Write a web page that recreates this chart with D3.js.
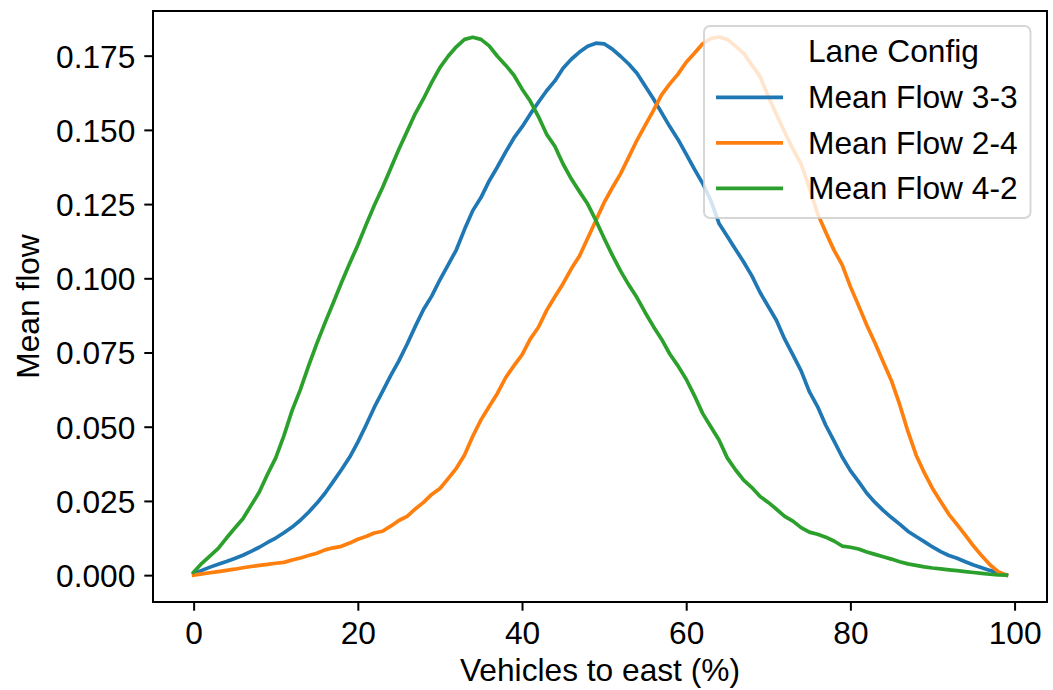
<!DOCTYPE html>
<html><head><meta charset="utf-8">
<script src="https://cdn.jsdelivr.net/npm/d3@7"></script>
<style>
body{margin:0;background:#fff}
text{font-family:"Liberation Sans",Arial,Helvetica,sans-serif;fill:#000}
</style>
</head><body>
<svg id="chart" width="1053" height="690"></svg>
<script>
// Vehicles to east (%) : 0..99
const seriesNames = ["Mean Flow 3-3", "Mean Flow 2-4", "Mean Flow 4-2"];
const seriesColors = ["#1f77b4", "#ff7f0e", "#2ca02c"];
const legendTitle = "Lane Config";
const xTicks = [0, 20, 40, 60, 80, 100];
const yTicks = [0, 0.025, 0.05, 0.075, 0.1, 0.125, 0.15, 0.175];

const flow33 = [
0.0005,0.0016,0.0027,0.0037,0.0046,0.0056,0.0067,0.0080,0.0094,0.0110,
0.0125,0.0143,0.0162,0.0185,0.0212,0.0242,0.0276,0.0315,0.0355,0.0397,
0.0448,0.0505,0.0565,0.0618,0.0672,0.0722,0.0778,0.0838,0.0895,0.0940,
0.0995,0.1045,0.1096,0.1165,0.1228,0.1272,0.1328,0.1375,0.1425,0.1472,
0.1510,0.1553,0.1593,0.1632,0.1665,0.1708,0.1738,0.1762,0.1782,0.1792,
0.1790,0.1772,0.1748,0.1722,0.1691,0.1648,0.1605,0.1558,0.1511,0.1468,
0.1418,0.1368,0.1320,0.1262,0.1185,0.1142,0.1098,0.1055,0.1008,0.0952,
0.0905,0.0858,0.0795,0.0742,0.0688,0.0618,0.0568,0.0505,0.0452,0.0398,
0.0352,0.0315,0.0276,0.0245,0.0218,0.0194,0.0172,0.0148,0.0130,0.0113,
0.0095,0.0079,0.0066,0.0057,0.0045,0.0034,0.0025,0.0016,0.0008,0.0000];

const flow24 = [
0.0000,0.0004,0.0008,0.0012,0.0016,0.0020,0.0025,0.0029,0.0033,0.0036,
0.0040,0.0043,0.0051,0.0058,0.0066,0.0074,0.0085,0.0092,0.0097,0.0108,
0.0121,0.0130,0.0142,0.0148,0.0165,0.0184,0.0198,0.0223,0.0245,0.0272,
0.0292,0.0325,0.0360,0.0405,0.0468,0.0523,0.0568,0.0612,0.0665,0.0705,
0.0742,0.0795,0.0835,0.0892,0.0938,0.0982,0.1032,0.1075,0.1135,0.1195,
0.1255,0.1305,0.1352,0.1408,0.1465,0.1515,0.1565,0.1618,0.1655,0.1688,
0.1728,0.1758,0.1790,0.1808,0.1813,0.1805,0.1782,0.1758,0.1718,0.1680,
0.1612,0.1552,0.1492,0.1435,0.1385,0.1305,0.1218,0.1155,0.1095,0.1045,
0.0972,0.0908,0.0842,0.0782,0.0718,0.0655,0.0575,0.0485,0.0405,0.0345,
0.0292,0.0248,0.0205,0.0170,0.0135,0.0098,0.0065,0.0035,0.0012,0.0000];

const flow42 = [
0.0010,0.0040,0.0065,0.0090,0.0125,0.0158,0.0190,0.0235,0.0280,0.0340,
0.0395,0.0470,0.0555,0.0625,0.0705,0.0780,0.0850,0.0917,0.0985,0.1050,
0.1112,0.1180,0.1245,0.1305,0.1370,0.1435,0.1495,0.1555,0.1605,0.1660,
0.1710,0.1748,0.1780,0.1805,0.1812,0.1805,0.1783,0.1748,0.1718,0.1685,
0.1638,0.1597,0.1545,0.1485,0.1445,0.1385,0.1335,0.1292,0.1250,0.1195,
0.1135,0.1078,0.1025,0.0978,0.0935,0.0885,0.0838,0.0795,0.0745,0.0705,
0.0660,0.0605,0.0545,0.0500,0.0455,0.0395,0.0355,0.0320,0.0295,0.0265,
0.0245,0.0222,0.0198,0.0182,0.0160,0.0145,0.0138,0.0128,0.0115,0.0098,
0.0094,0.0088,0.0078,0.0070,0.0062,0.0054,0.0045,0.0038,0.0033,0.0028,
0.0024,0.0021,0.0018,0.0015,0.0012,0.0009,0.0006,0.0003,0.0001,0.0000];

const seriesValues = [flow33, flow24, flow42];

const W = 1053, H = 690;
const L = 153, R = 1047, T = 11, B = 602;
const FS = 31.7;
const svg = d3.select("#chart");

const x = d3.scaleLinear().domain([-4.95, 103.95]).range([L, R]);
const y = d3.scaleLinear().domain([-0.00905, 0.19005]).range([B, T]);

svg.append("defs").append("clipPath").attr("id", "clip")
  .append("rect").attr("x", L).attr("y", T).attr("width", R - L).attr("height", B - T);

const line = d3.line().x((d, i) => x(i)).y(d => y(d));
const lines = svg.append("g").attr("clip-path", "url(#clip)");
seriesValues.forEach((vals, k) => {
  lines.append("path").datum(vals)
    .attr("d", line)
    .attr("fill", "none")
    .attr("stroke", seriesColors[k])
    .attr("stroke-width", 3.7)
    .attr("stroke-linejoin", "round")
    .attr("stroke-linecap", "square");
});

// axes
const xAxis = d3.axisBottom(x).tickValues(xTicks).tickSize(8.7).tickPadding(8).tickFormat(d3.format("d"));
const yAxis = d3.axisLeft(y).tickValues(yTicks).tickSize(8.7).tickPadding(9).tickFormat(d3.format(".3f"));

const gx = svg.append("g").attr("transform", `translate(0,${B})`).call(xAxis);
const gy = svg.append("g").attr("transform", `translate(${L},0)`).call(yAxis);
[gx, gy].forEach(g => {
  g.select(".domain").remove();
  g.selectAll(".tick line").attr("stroke", "#000").attr("stroke-width", 2);
  g.selectAll(".tick text").attr("fill", "#000").style("font-size", FS + "px")
    .style("font-family", '"Liberation Sans", Arial, sans-serif');
});
gx.selectAll(".tick text").attr("dy", null).attr("y", 42);
gy.selectAll(".tick text").attr("dy", "0.36em");

// spines
svg.append("rect").attr("x", L).attr("y", T).attr("width", R - L).attr("height", B - T)
  .attr("fill", "none").attr("stroke", "#000").attr("stroke-width", 2);

// axis labels
svg.append("text").attr("x", (L + R) / 2).attr("y", 681)
  .attr("text-anchor", "middle").style("font-size", FS + "px")
  .text("Vehicles to east (%)");
svg.append("text")
  .attr("transform", `translate(39,${(T + B) / 2}) rotate(-90)`)
  .attr("text-anchor", "middle").style("font-size", FS + "px")
  .text("Mean flow");

// legend
const lg = svg.append("g");
lg.append("rect").attr("x", 704).attr("y", 26).attr("width", 326.5).attr("height", 192)
  .attr("rx", 6).attr("ry", 6)
  .attr("fill", "rgba(255,255,255,0.8)")
  .attr("stroke", "rgba(204,204,204,0.8)").attr("stroke-width", 2);
const rowBase = [62.3, 108.3, 153.8, 199.3];
lg.append("text").attr("x", 808).attr("y", rowBase[0]).style("font-size", FS + "px").text(legendTitle);
seriesNames.forEach((name, k) => {
  const cy = rowBase[k + 1] - 11;
  lg.append("line").attr("x1", 716).attr("x2", 783).attr("y1", cy).attr("y2", cy)
    .attr("stroke", seriesColors[k]).attr("stroke-width", 3.7).attr("stroke-linecap", "butt");
  lg.append("text").attr("x", 808).attr("y", rowBase[k + 1]).style("font-size", FS + "px").text(name);
});
</script>
</body></html>
